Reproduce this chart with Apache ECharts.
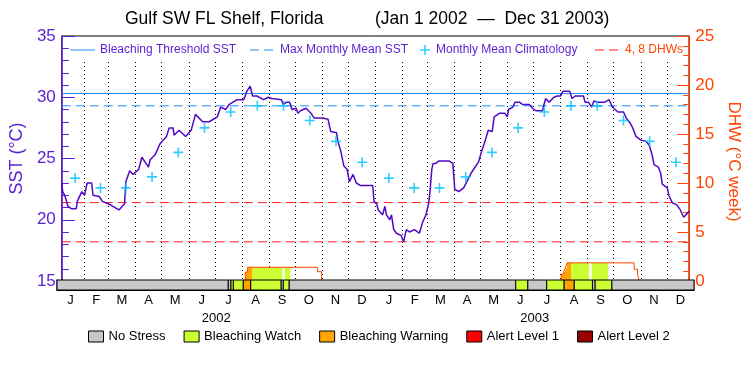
<!DOCTYPE html>
<html>
<head>
<meta charset="utf-8">
<script src="https://cdn.jsdelivr.net/npm/echarts@6/dist/echarts.min.js"></script>
<style>
html, body { margin: 0; padding: 0; background: #fff; }
#chart { width: 750px; height: 375px; }
</style>
</head>
<body>
<div id="chart"></div>
<script>
// month axis
var monthLen = [31, 28, 31, 30, 31, 30, 31, 31, 30, 31, 30, 31];
var monthLetters = ['J', 'F', 'M', 'A', 'M', 'J', 'J', 'A', 'S', 'O', 'N', 'D'];
var years = ['2002', '2003'];

// reference levels
var climatology = [23.4, 22.6, 22.6, 23.5, 25.5, 27.5, 28.8, 29.3, 29.3, 28.1, 26.4, 24.7];
var bleachingThreshold = 30.3;
var maxMonthlyMean = 29.3;
var dhwLevels = [4, 8];

// [day since Jan 1 2002, SST]
var sstDaily = [
    [0,23.0],[1,22.3],[3.4,22.0],[7.2,21.1],[11.1,20.9],[16.8,20.9],[18,21.5],[23.3,22.3],[26.4,22.0],[29.5,23.0],
    [34.7,23.0],[36.3,22.0],[43.5,21.9],[47.3,21.5],[57,21.2],[66.5,20.8],[73,21.3],[74.5,23.1],[79,24.0],[82.9,23.7],
    [89.4,24.1],[93.2,25.1],[100.8,24.3],[102.8,24.9],[108.5,25.3],[114.3,26.2],[121.8,26.8],[124.9,27.5],[129.5,27.5],[130.6,26.9],
    [136.4,27.3],[144,26.8],[150.5,27.3],[155.5,28.6],[163.9,28.0],[171.6,28.0],[181,28.4],[184.9,29.2],[190.6,29.0],[194.5,29.4],
    [204,29.8],[211.7,29.8],[215.4,30.5],[219.2,30.9],[222,30.1],[226.9,30.1],[234.6,29.8],[240.3,30.0],[244.1,29.9],[255.6,29.8],
    [257.5,29.4],[261.3,29.6],[265.1,29.6],[267.8,29.0],[272.7,29.1],[274.7,28.7],[277.7,28.9],[284.2,29.1],[289.9,28.7],[293.7,28.3],
    [303.3,28.3],[309.8,28.2],[312.9,27.2],[319.7,27.1],[321.2,26.4],[324.3,25.7],[328.1,24.4],[332,24.1],[334.6,23.1],[338.9,23.7],
    [342.7,23.0],[347.2,22.8],[361.8,22.8],[363.3,21.5],[366.4,21.3],[368.2,20.8],[373.3,20.4],[375.9,21.1],[377.8,20.4],[381.6,20.0],
    [383.6,20.4],[386.2,19.2],[389.3,18.9],[395,18.7],[397.7,18.2],[400.8,19.2],[404.5,19.0],[410.3,19.2],[416,18.9],[419.8,19.8],
    [423.7,20.4],[426.7,21.3],[428.3,22.2],[430.5,24.1],[432,24.6],[435.1,24.6],[438.9,24.8],[450.4,24.8],[455,24.6],[457.2,22.5],
    [461.8,22.3],[467.6,22.6],[473.3,23.4],[477.1,23.9],[484.8,24.7],[488.5,25.6],[492.4,26.4],[496.2,27.3],[500.8,27.2],[503.1,28.4],
    [509.6,28.7],[515.3,28.7],[518.3,28.4],[519.9,29.0],[524.9,29.2],[527.5,29.6],[532.5,29.6],[536.3,29.4],[544,29.4],[547.8,29.1],
    [551.6,28.9],[559.2,28.9],[563,29.9],[566.9,29.6],[572.7,30.0],[576.4,30.1],[580.2,30.1],[583.3,30.5],[591,30.5],[593.6,29.9],
    [597.4,30.1],[607,30.1],[608.8,29.6],[612.7,29.6],[616.5,29.2],[619.2,29.7],[622.3,29.6],[631.8,29.6],[636.8,29.8],[640.6,29.2],
    [647.1,28.8],[653.6,28.8],[656.7,28.3],[661.2,27.9],[664.3,27.5],[668.1,26.8],[673.8,26.5],[679.6,26.4],[683.4,26.1],[687.2,25.2],
    [689.1,24.5],[694.1,24.3],[696.8,23.8],[698.7,22.9],[704.5,22.6],[706.3,22.0],[710.2,21.4],[715.9,21.2],[719.7,20.8],[723.5,20.2],
    [727.4,20.5],[730,20.7]
];

// degree heating weeks, a step function: value holds from dhwDay[i] to dhwDay[i+1]
var dhwDay = [0, 213.5, 216.2, 297.6, 302.2, 581.2, 584, 585.8, 587.8, 666, 669.9, 671.7, 730];
var dhwValue = [0, 0.9, 1.4, 0.95, 0, 0.7, 0.95, 1.3, 1.85, 1.2, 0.7, 0, 0];

// stress level bar: 0 none, 1 watch, 2 warning, 3 alert 1, 4 alert 2
var stressStart = [0, 196.3, 199.4, 202.1, 213.5, 221.9, 256.7, 259.4, 265.9, 525.7, 539.4, 561.2, 581.2, 592.6, 613.6, 616.7, 635.7];
var stressEnd   = [196.3, 199.4, 202.1, 213.5, 221.9, 256.7, 259.4, 265.9, 525.7, 539.4, 561.2, 581.2, 592.6, 613.6, 616.7, 635.7, 730];
var stressLevel = [0, 0, 1, 1, 2, 1, 0, 1, 0, 1, 0, 1, 2, 1, 0, 1, 0];
var stressNames = ['No Stress', 'Bleaching Watch', 'Bleaching Warning', 'Alert Level 1', 'Alert Level 2'];
var stressColors = ['#c8c8c8', '#ccff33', '#ffa500', '#ff0000', '#990000'];

var purple = '#5a1fd1';
var sstColor = '#5208c4';
var orange = '#ff4500';
var blue = '#1e8fff';
var cyan = '#00bfff';
var red = '#ff1a1a';
var font = 'Liberation Sans';

var monthStart = [], monthMid = [], monthLabel = [];
var day = 0;
years.forEach(function () {
    monthLen.forEach(function (n, i) {
        monthStart.push(day);
        monthMid.push(day + n / 2);
        monthLabel.push(monthLetters[i]);
        day += n;
    });
});
var totalDays = day;
var yearMid = years.map(function (y, i) { return i * 365 + 182.5; });

function dhwAt(d) {
    var v = 0;
    for (var i = 0; i < dhwDay.length; i++) {
        if (dhwDay[i] <= d) v = dhwValue[i];
    }
    return v;
}

function renderStress(params, api) {
    var p0 = api.coord([api.value(0), 1]);
    var p1 = api.coord([api.value(1), 0]);
    return {
        type: 'rect',
        shape: { x: p0[0], y: p0[1], width: p1[0] - p0[0], height: p1[1] - p0[1] },
        style: { fill: api.visual('color'), stroke: '#000', lineWidth: 1 }
    };
}

// area under the DHW curve, coloured by the stress level of that stretch
function renderFill(params, api) {
    var s = api.value(0), e = api.value(1);
    var pts = [[s, 0], [s, dhwAt(s)]];
    for (var i = 1; i < dhwDay.length; i++) {
        if (dhwDay[i] > s && dhwDay[i] < e) {
            pts.push([dhwDay[i], dhwValue[i - 1]]);
            pts.push([dhwDay[i], dhwValue[i]]);
        }
    }
    pts.push([e, dhwAt(e - 0.001)]);
    pts.push([e, 0]);
    return {
        type: 'polygon',
        shape: { points: pts.map(function (p) { return api.coord(p); }) },
        style: { fill: stressColors[api.value(2)] }
    };
}

var fillData = [];
stressLevel.forEach(function (lv, i) {
    if (lv > 0) fillData.push([stressStart[i], stressEnd[i], lv]);
});

var stressSeries = stressNames.map(function (name, lv) {
    var segs = [];
    stressLevel.forEach(function (l, i) {
        if (l === lv) segs.push([stressStart[i], stressEnd[i]]);
    });
    return {
        name: name,
        type: 'custom',
        xAxisIndex: 1,
        yAxisIndex: 2,
        renderItem: renderStress,
        itemStyle: { color: stressColors[lv] },
        encode: { x: [0, 1] },
        data: segs,
        z: 6
    };
});

var dhwLineSeries = dhwLevels.map(function (v) {
    return {
        name: '4, 8 DHWs',
        type: 'line',
        xAxisIndex: 0,
        yAxisIndex: 1,
        symbol: 'none',
        lineStyle: { color: red, width: 1, type: [9, 5] },
        itemStyle: { color: red },
        data: [[0, v], [totalDays, v]],
        z: 2
    };
});

// legend icons (the bare M points only fix the icon box)
var plusPath = 'path://M0,4.2H10V5.8H0Z M4.2,0H5.8V10H4.2Z';
var solidPath = 'path://M0,0 M0,4.5H25V5.5H0Z M25,10';
var dashPath = 'path://M0,0 M0,4.5H9V5.5H0Z M14,4.5H23V5.5H14Z M25,10';

var topLegend = {
    top: 44, padding: 0, itemWidth: 25, itemHeight: 10, selectedMode: false,
    textStyle: { color: purple, fontSize: 12, fontFamily: font }
};

var titleStyle = { color: '#000', fontSize: 17.5, fontWeight: 'normal', fontFamily: font };

var option = {
    animation: false,
    backgroundColor: '#fff',
    title: [
        { text: 'Gulf SW FL Shelf, Florida', left: 125, top: 10, padding: 0, textStyle: titleStyle },
        { text: '(Jan 1 2002  \u2014  Dec 31 2003)', left: 375, top: 10, padding: 0, textStyle: titleStyle }
    ],
    legend: [
        Object.assign({}, topLegend, { left: 70, data: [{ name: 'Bleaching Threshold SST', icon: solidPath }] }),
        Object.assign({}, topLegend, { left: 250, data: [{ name: 'Max Monthly Mean SST', icon: dashPath }] }),
        Object.assign({}, topLegend, { left: 420, itemWidth: 12, data: [{ name: 'Monthly Mean Climatology', icon: plusPath }] }),
        Object.assign({}, topLegend, { left: 595, data: [{ name: '4, 8 DHWs', icon: dashPath }], textStyle: { color: orange, fontSize: 12, fontFamily: font } }),
        {
            left: 88, top: 330, padding: 0, itemWidth: 15, itemHeight: 11, itemGap: 18,
            selectedMode: false, icon: 'rect',
            itemStyle: { borderColor: '#000', borderWidth: 1 },
            textStyle: { color: '#000', fontSize: 13, fontFamily: font },
            data: stressNames
        }
    ],
    grid: [
        { left: 57, right: 56, top: 36, height: 245, show: true, borderColor: '#000', borderWidth: 1 },
        { left: 57, right: 56, top: 280, height: 10 },
        { left: 57, right: 56, top: 62, height: 219 }
    ],
    xAxis: [
        { gridIndex: 0, type: 'value', min: 0, max: totalDays, show: false },
        {
            gridIndex: 1, type: 'value', min: 0, max: totalDays, position: 'bottom',
            axisLine: { show: true, onZero: false, lineStyle: { color: '#000', width: 1 } },
            axisTick: { show: false },
            splitLine: { show: false },
            axisLabel: {
                customValues: monthMid,
                margin: 4,
                color: '#000', fontSize: 13, fontFamily: font,
                formatter: function (v) { return monthLabel[monthMid.indexOf(v)]; }
            }
        },
        {
            gridIndex: 1, type: 'value', min: 0, max: totalDays, position: 'bottom', offset: 18,
            axisLine: { show: false, onZero: false },
            axisTick: { show: false },
            splitLine: { show: false },
            axisLabel: {
                customValues: yearMid,
                margin: 4,
                color: '#000', fontSize: 13, fontFamily: font,
                formatter: function (v) { return years[yearMid.indexOf(v)]; }
            }
        },
        {
            gridIndex: 2, type: 'value', min: 0, max: totalDays,
            axisLine: { show: false, onZero: false },
            axisLabel: { show: false },
            axisTick: { show: false, customValues: monthStart.slice(1) },
            splitLine: { show: true, lineStyle: { color: '#000', width: 1, type: [1, 3] } }
        }
    ],
    yAxis: [
        {
            gridIndex: 0, type: 'value', position: 'left', min: 15, max: 35, interval: 5,
            name: 'SST (\u00b0C)', nameLocation: 'middle', nameGap: 30,
            nameTextStyle: { color: purple, fontSize: 18, fontFamily: font },
            axisLine: { show: true, onZero: false, lineStyle: { color: purple, width: 1.5 } },
            axisTick: { show: true, inside: true, length: 13, lineStyle: { color: purple } },
            minorTick: { show: true, splitNumber: 5, length: 7, lineStyle: { color: purple } },
            axisLabel: { color: purple, fontSize: 17, margin: 6, fontFamily: font },
            splitLine: { show: false }
        },
        {
            gridIndex: 0, type: 'value', position: 'right', min: 0, max: 25, interval: 5,
            name: 'DHW (\u00b0C week)', nameLocation: 'middle', nameGap: 30, nameRotate: -90,
            nameTextStyle: { color: orange, fontSize: 17, fontFamily: font, padding: [0, 0, 0, 6] },
            axisLine: { show: true, onZero: false, lineStyle: { color: orange, width: 1.5 } },
            axisTick: { show: true, inside: true, length: 12, lineStyle: { color: orange } },
            minorTick: { show: true, splitNumber: 5, length: 6, lineStyle: { color: orange } },
            axisLabel: { color: orange, fontSize: 17, margin: 6, fontFamily: font },
            splitLine: { show: false }
        },
        {
            gridIndex: 1, type: 'value', position: 'left', min: 0, max: 1,
            axisLine: { show: true, onZero: false, lineStyle: { color: purple, width: 1.5 } },
            axisTick: { show: false }, axisLabel: { show: false }, splitLine: { show: false }
        },
        {
            gridIndex: 1, type: 'value', position: 'right', min: 0, max: 1,
            axisLine: { show: true, onZero: false, lineStyle: { color: orange, width: 1.5 } },
            axisTick: { show: false }, axisLabel: { show: false }, splitLine: { show: false }
        },
        { gridIndex: 2, type: 'value', show: false }
    ],
    series: [
        {
            name: 'Stress Fill',
            type: 'custom',
            xAxisIndex: 0,
            yAxisIndex: 1,
            renderItem: renderFill,
            encode: { x: [0, 1], y: 2 },
            data: fillData,
            z: 2
        },
        {
            name: 'Bleaching Threshold SST',
            type: 'line',
            xAxisIndex: 0, yAxisIndex: 0,
            symbol: 'none',
            lineStyle: { color: blue, width: 1 },
            itemStyle: { color: blue },
            data: [[0, bleachingThreshold], [totalDays, bleachingThreshold]],
            z: 2
        },
        {
            name: 'Max Monthly Mean SST',
            type: 'line',
            xAxisIndex: 0, yAxisIndex: 0,
            symbol: 'none',
            lineStyle: { color: blue, width: 1, type: [9, 5] },
            itemStyle: { color: blue },
            data: [[0, maxMonthlyMean], [totalDays, maxMonthlyMean]],
            z: 2
        },
        {
            name: 'DHW',
            type: 'line',
            xAxisIndex: 0, yAxisIndex: 1,
            step: 'end',
            symbol: 'none',
            lineStyle: { color: orange, width: 1 },
            data: dhwDay.map(function (d, i) { return [d, dhwValue[i]]; }),
            z: 3
        },
        {
            name: 'SST',
            type: 'line',
            xAxisIndex: 0, yAxisIndex: 0,
            symbol: 'none',
            lineStyle: { color: sstColor, width: 1.5 },
            data: sstDaily,
            z: 4
        },
        {
            name: 'Monthly Mean Climatology',
            type: 'scatter',
            xAxisIndex: 0, yAxisIndex: 0,
            symbol: plusPath,
            symbolSize: 10,
            itemStyle: { color: cyan },
            data: monthMid.map(function (d, i) { return [d, climatology[i % 12]]; }),
            z: 5
        }
    ].concat(dhwLineSeries, stressSeries)
};

var chart = echarts.init(document.getElementById('chart'));
chart.setOption(option);
</script>
</body>
</html>
